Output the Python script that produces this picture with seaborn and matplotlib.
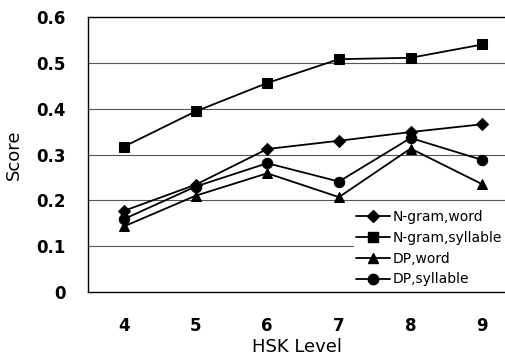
import pandas as pd
import seaborn as sns
from matplotlib import pyplot as plt
from matplotlib.lines import Line2D

levels = ['4', '5', '6', '7', '8', '9']
ngram_word = [0.177, 0.234, 0.312, 0.330, 0.349, 0.366]
ngram_syllable = [0.317, 0.394, 0.456, 0.508, 0.511, 0.540]
dp_word = [0.143, 0.210, 0.259, 0.207, 0.313, 0.235]
dp_syllable = [0.159, 0.230, 0.281, 0.241, 0.336, 0.288]

series = {
    'N-gram,word': ngram_word,
    'N-gram,syllable': ngram_syllable,
    'DP,word': dp_word,
    'DP,syllable': dp_syllable,
}
markers = ['D', 's', '^', 'o']
sizes = [6, 7.5, 7.5, 7.5]

rows = []
for name, vals in series.items():
    for i, v in enumerate(vals):
        rows.append({'pos': i, 'Level': levels[i], 'Method': name, 'Score': v})
df = pd.DataFrame(rows)

sns.set_style('white')
plt.rcParams['font.family'] = ['DejaVu Sans']
plt.rcParams['text.color'] = 'black'

fig = plt.figure(figsize=(5.06, 3.59), dpi=100)
ax = fig.add_axes([88 / 506, 1 - 292 / 359, 418 / 506, 275 / 359])

for y in [0.1, 0.2, 0.3, 0.4, 0.5]:
    ax.axhline(y, color='#555555', linewidth=0.8, zorder=0)

# one lineplot per series so each marker can have its own size
for (name, sub), m, ms in zip(df.groupby('Method', sort=False), markers, sizes):
    sns.lineplot(data=sub, x='pos', y='Score', color='black', marker=m,
                 markersize=ms, markeredgecolor='black', linewidth=1.3,
                 ax=ax, legend=False)

ax.set_xlim(-0.5, 5.33)
ax.set_ylim(0, 0.6)
ax.set_xticks(range(len(levels)))
ax.set_xticklabels(levels, fontsize=12, fontweight='bold', color='black')
ax.set_yticks([0, 0.1, 0.2, 0.3, 0.4, 0.5, 0.6])
ax.set_yticklabels(['0', '0.1', '0.2', '0.3', '0.4', '0.5', '0.6'],
                   fontsize=12, fontweight='bold', color='black')
ax.tick_params(axis='x', length=0, pad=18)
ax.tick_params(axis='y', length=0, pad=16)
ax.set_xlabel('HSK Level', fontsize=13, labelpad=2, color='black')
ax.set_ylabel('Score', fontsize=13, labelpad=10, color='black')
for s in ax.spines.values():
    s.set_color('black')
    s.set_linewidth(1.0)

handles = [Line2D([], [], color='black', marker=m, markersize=ms, linewidth=1.3)
           for m, ms in zip(markers, sizes)]
leg = ax.legend(handles, list(series.keys()), loc='lower right',
                bbox_to_anchor=(1.0, 0.005), frameon=True, fontsize=10,
                handlelength=2.4, labelspacing=0.5, borderpad=0.2,
                handletextpad=0.2, borderaxespad=0.1, fancybox=False)
leg.get_frame().set_edgecolor('white')
leg.get_frame().set_alpha(1)

plt.savefig('out.png', dpi=100)
